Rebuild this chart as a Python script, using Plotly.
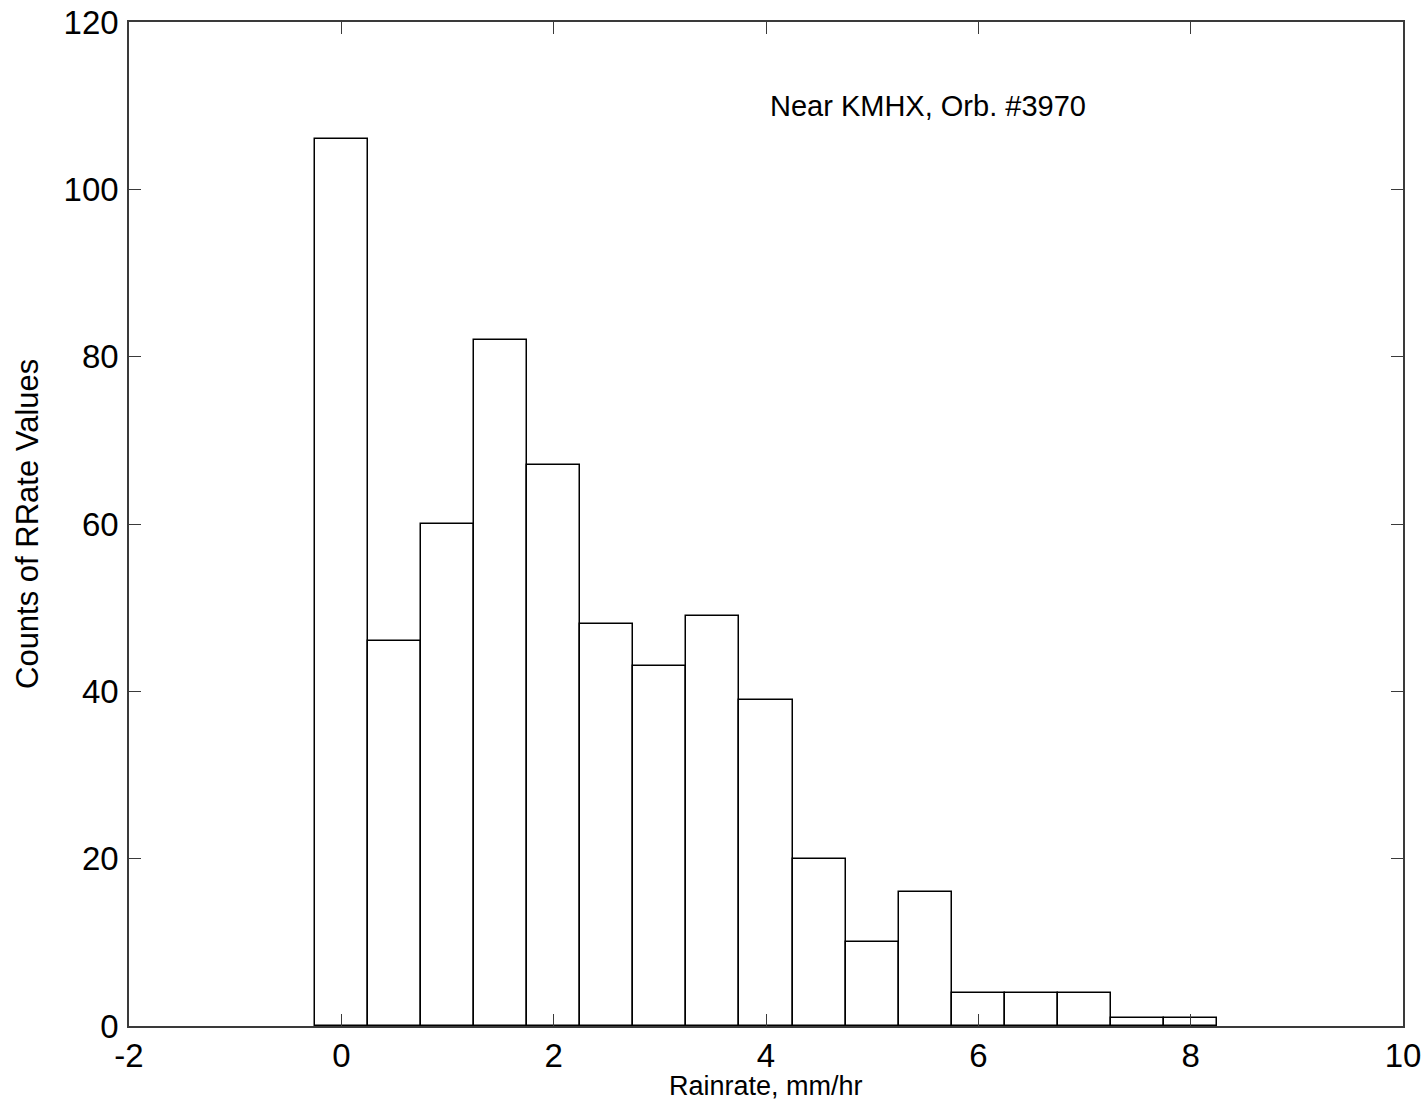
import plotly.graph_objects as go

bin_centers = [0, 0.5, 1.0, 1.5, 2.0, 2.5, 3.0, 3.5, 4.0, 4.5, 5.0, 5.5, 6.0, 6.5, 7.0, 7.5, 8.0]
counts = [106, 46, 60, 82, 67, 48, 43, 49, 39, 20, 10, 16, 4, 4, 4, 1, 1]
x_ticks = [-2, 0, 2, 4, 6, 8, 10]
y_ticks = [0, 20, 40, 60, 80, 100, 120]

FONT = "Liberation Sans, Arial, sans-serif"

fig = go.Figure()
fig.add_trace(go.Bar(
    x=bin_centers, y=counts, width=0.5,
    marker=dict(color="white", line=dict(color="black", width=1.5)),
    showlegend=False,
))

axis_common = dict(
    showgrid=False, zeroline=False, showline=True, linecolor="#3a3a3a", linewidth=1.5,
    mirror="ticks", ticks="inside", ticklen=12, tickwidth=1.2, tickcolor="#3a3a3a",
    tickfont=dict(family=FONT, size=33, color="black"), automargin=False,
)

fig.update_layout(
    width=1428, height=1104,
    margin=dict(l=129, r=25, t=22, b=78),
    paper_bgcolor="white", plot_bgcolor="white",
    xaxis=dict(range=[-2, 10], tickvals=x_ticks, ticktext=[str(v) for v in x_ticks],
               ticklabelstandoff=0, **axis_common),
    yaxis=dict(range=[0, 120], tickvals=y_ticks, ticktext=[str(v) for v in y_ticks],
               ticklabelstandoff=2, **axis_common),
    bargap=0,
    annotations=[
        dict(text="Near KMHX, Orb. #3970", x=5.53, y=110, xref="x", yref="y",
             showarrow=False, font=dict(family=FONT, size=29, color="black")),
        dict(text="Rainrate, mm/hr", x=0.5, y=0, xref="paper", yref="paper",
             xanchor="center", yanchor="bottom", yshift=-77, showarrow=False,
             font=dict(family=FONT, size=27, color="black")),
        dict(text="Counts of RRate Values", x=0, y=0.5, xref="paper", yref="paper",
             xanchor="center", yanchor="middle", xshift=-102, textangle=-90,
             showarrow=False, font=dict(family=FONT, size=31, color="black")),
    ],
)

fig.write_html("out.html")
